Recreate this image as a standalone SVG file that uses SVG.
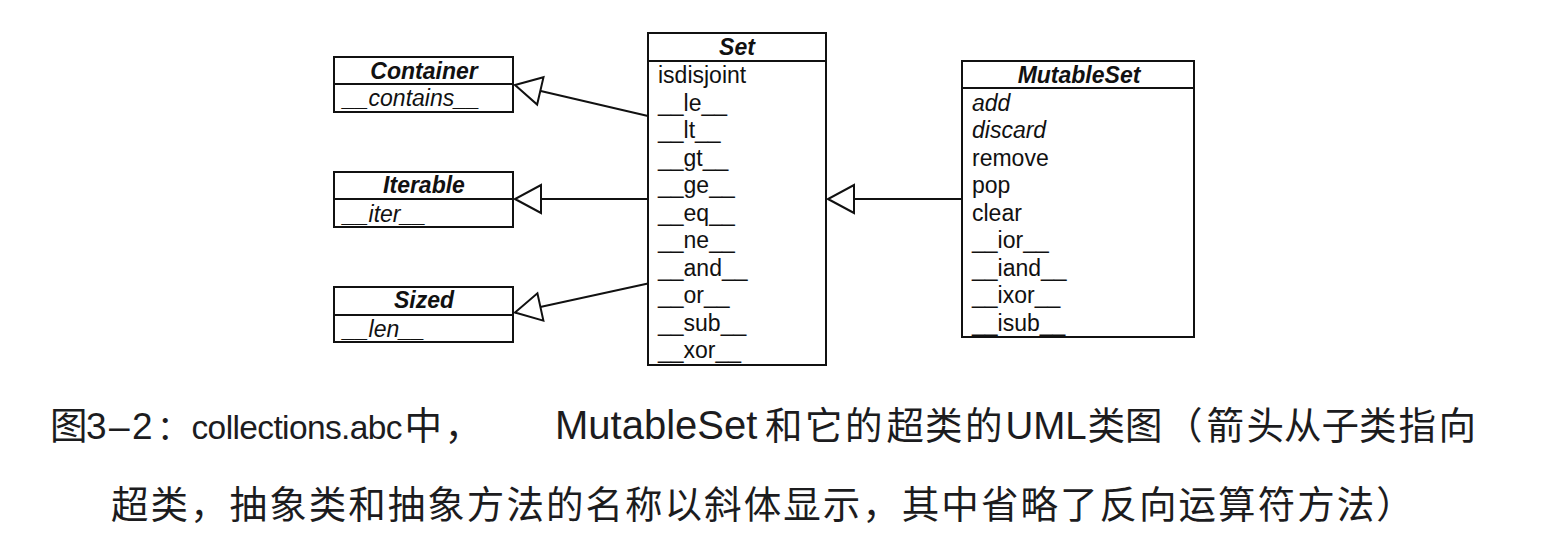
<svg xmlns="http://www.w3.org/2000/svg" width="1544" height="556" viewBox="0 0 1544 556">
<style>
.box{fill:#fff;stroke:#111;stroke-width:2}
.div{stroke:#111;stroke-width:2}
.hd{font-family:"Liberation Sans",Arial,sans-serif;font-size:23px;font-weight:bold;font-style:italic;fill:#111;text-anchor:middle}
.it{font-family:"Liberation Sans",Arial,sans-serif;font-size:23px;font-style:italic;fill:#111}
.m{font-family:"Liberation Sans",Arial,sans-serif;font-size:23px;fill:#111}
.ln{stroke:#111;stroke-width:2;fill:none;marker-end:url(#tri)}
.cap{font-family:"Noto Sans CJK SC",sans-serif;font-size:37.5px;fill:#1c1c1e}
.lat{font-family:"Liberation Sans",Arial,"Noto Sans CJK SC",sans-serif}
</style>
<defs>
<marker id="tri" markerUnits="userSpaceOnUse" viewBox="-1 -1 28 30" refX="26" refY="14" markerWidth="28" markerHeight="30" orient="auto" overflow="visible">
<path d="M26,14 L0,0 L0,28 Z" fill="#fff" stroke="#111" stroke-width="2" stroke-linejoin="miter"/>
</marker>
</defs>
<g id="connectors">
<line class="ln" x1="648" y1="116" x2="515" y2="85"/>
<line class="ln" x1="648" y1="199" x2="515" y2="199"/>
<line class="ln" x1="648" y1="283.5" x2="515" y2="312.5"/>
<line class="ln" x1="962" y1="199" x2="828" y2="199"/>
</g>
<g id="Container">
<rect class="box" x="334" y="57" width="179" height="55"/>
<line class="div" x1="334" y1="84" x2="513" y2="84"/>
<text class="hd" x="424" y="78.5">Container</text>
<text class="it" x="343" y="106">__contains__</text>
</g>
<g id="Iterable">
<rect class="box" x="334" y="172" width="179" height="55"/>
<line class="div" x1="334" y1="199" x2="513" y2="199"/>
<text class="hd" x="424" y="193">Iterable</text>
<text class="it" x="343" y="221.5">__iter__</text>
</g>
<g id="Sized">
<rect class="box" x="334" y="287" width="179" height="55"/>
<line class="div" x1="334" y1="315" x2="513" y2="315"/>
<text class="hd" x="424" y="308">Sized</text>
<text class="it" x="343" y="336.5">__len__</text>
</g>
<g id="Set">
<rect class="box" x="648" y="33" width="178" height="332"/>
<line class="div" x1="648" y1="61" x2="826" y2="61"/>
<text class="hd" x="737" y="55">Set</text>
<text class="m" x="658" y="83">isdisjoint</text>
<text class="m" x="658" y="110.5">__le__</text>
<text class="m" x="658" y="138">__lt__</text>
<text class="m" x="658" y="165.5">__gt__</text>
<text class="m" x="658" y="193">__ge__</text>
<text class="m" x="658" y="220.5">__eq__</text>
<text class="m" x="658" y="248">__ne__</text>
<text class="m" x="658" y="275.5">__and__</text>
<text class="m" x="658" y="303">__or__</text>
<text class="m" x="658" y="330.5">__sub__</text>
<text class="m" x="658" y="358">__xor__</text>
</g>
<g id="MutableSet">
<rect class="box" x="962" y="61" width="232" height="276"/>
<line class="div" x1="962" y1="88" x2="1194" y2="88"/>
<text class="hd" x="1079" y="83">MutableSet</text>
<text class="it" x="972" y="110.5">add</text>
<text class="it" x="972" y="138">discard</text>
<text class="m" x="972" y="165.5">remove</text>
<text class="m" x="972" y="193">pop</text>
<text class="m" x="972" y="220.5">clear</text>
<text class="m" x="972" y="248">__ior__</text>
<text class="m" x="972" y="275.5">__iand__</text>
<text class="m" x="972" y="303">__ixor__</text>
<text class="m" x="972" y="330.5">__isub__</text>
</g>
<g id="caption">
<text class="cap" y="438.5"><tspan x="50">图</tspan><tspan class="lat" x="86 109 132" font-size="37">3–2</tspan><tspan x="157" font-size="33">：</tspan><tspan class="lat" x="191.5" font-size="33.5" textLength="211" lengthAdjust="spacing">collections.abc</tspan><tspan x="404.5 444.5">中，</tspan><tspan class="lat" x="555" font-size="40">MutableSet</tspan><tspan x="765 805 845 886.5 925 965">和它的超类的</tspan><tspan class="lat" x="1005.5" font-size="38.5">UML</tspan><tspan x="1087.5 1125 1165 1206.5 1246.5 1284 1321.5 1359 1398.5 1438.5">类图（箭头从子类指向</tspan></text>
<text class="cap" x="111" y="518" letter-spacing="2.04">超类，抽象类和抽象方法的名称以斜体显示，其中省略了反向运算符方法）</text>
</g>
</svg>
